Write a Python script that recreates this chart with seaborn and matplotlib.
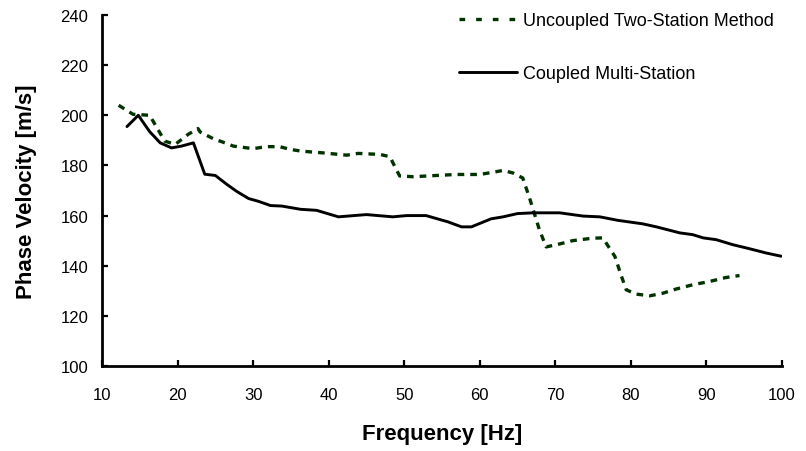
import pandas as pd

import matplotlib
matplotlib.use("Agg")
import matplotlib.pyplot as plt
from matplotlib.lines import Line2D

import seaborn as sns


# coupled multi-station curve
coupled_freq = [13.3, 14.8, 16.3, 17.7, 19.2, 20.5, 22.1, 23.6, 25.0, 26.5, 27.8, 29.4,
                30.7, 32.3, 33.8, 36.3, 38.4, 41.3, 45.0, 48.5, 50.3, 52.9, 55.8, 57.6,
                58.9, 61.5, 63.1, 65.0, 67.1, 70.6, 73.7, 75.9, 78.3, 81.6, 83.4, 86.5,
                88.2, 89.6, 91.3, 93.5, 95.7, 97.9, 99.9]
coupled_vel = [195.5, 200.0, 193.5, 189.0, 187.0, 187.7, 189.0, 176.5, 176.0, 172.5, 169.7, 166.8,
               165.7, 164.0, 163.8, 162.5, 162.1, 159.5, 160.4, 159.5, 160.0, 160.0, 157.5, 155.5,
               155.5, 158.7, 159.5, 160.8, 161.1, 161.1, 159.8, 159.5, 158.1, 156.7, 155.5, 153.1,
               152.4, 151.1, 150.4, 148.4, 146.8, 145.1, 143.8]

# uncoupled two-station curve
uncoupled_freq = [12.2, 14.1, 16.3, 18.3, 19.7, 21.4, 22.7, 23.0, 24.7, 26.0, 27.4, 30.0,
                  31.8, 33.5, 34.9, 36.4, 39.3, 42.4, 43.9, 46.8, 48.1, 49.4, 51.2, 54.3,
                  56.9, 60.0, 61.8, 63.1, 64.4, 65.7, 66.6, 67.9, 68.8, 70.6, 72.3, 75.0,
                  76.3, 77.9, 78.7, 79.4, 80.7, 82.5, 84.2, 86.0, 88.2, 90.4, 92.6, 94.4]
uncoupled_vel = [204.0, 200.4, 200.0, 189.7, 188.4, 192.4, 194.7, 193.3, 190.7, 189.3, 187.7, 186.7,
                 187.5, 187.5, 186.4, 185.7, 185.0, 184.1, 184.8, 184.4, 183.5, 175.8, 175.5, 176.0,
                 176.4, 176.4, 177.3, 178.0, 177.0, 175.0, 167.0, 154.4, 147.5, 148.7, 150.0, 151.0,
                 151.1, 143.7, 136.4, 130.4, 128.7, 128.0, 129.0, 130.7, 132.4, 133.7, 135.3, 136.1]

x_ticks = list(range(10, 101, 10))
y_ticks = list(range(100, 241, 20))

labels = ['Uncoupled Two-Station Method', 'Coupled Multi-Station']
green = '#003300'

sns.set_style("ticks")
plt.rcParams['font.family'] = ['Liberation Sans', 'DejaVu Sans']
plt.rcParams['text.color'] = 'black'
plt.rcParams['axes.labelcolor'] = 'black'

df_unc = pd.DataFrame({'Frequency': uncoupled_freq, 'Velocity': uncoupled_vel})
df_cpl = pd.DataFrame({'Frequency': coupled_freq, 'Velocity': coupled_vel})

fig = plt.figure(figsize=(8.06, 4.52), dpi=100)
ax = fig.add_axes([0.1266, 0.188, 0.8434, 0.7766])

sns.lineplot(data=df_unc, x='Frequency', y='Velocity', ax=ax, color=green,
             linewidth=2.4, linestyle=(0, (2.0, 1.8)))
sns.lineplot(data=df_cpl, x='Frequency', y='Velocity', ax=ax, color='black',
             linewidth=2.1)

ax.set_xlim(10, 100)
ax.set_ylim(100, 240)
ax.set_xticks(x_ticks)
ax.set_yticks(y_ticks)

for side in ['top', 'right']:
    ax.spines[side].set_visible(False)
for side in ['left', 'bottom']:
    ax.spines[side].set_linewidth(2.0)
    ax.spines[side].set_color('black')

ax.tick_params(axis='both', direction='in', length=4.5, width=1.6, labelsize=12,
               colors='black', bottom=True, left=True)
ax.tick_params(axis='x', pad=15)
ax.tick_params(axis='y', pad=10)

ax.set_xlabel("Frequency [Hz]", fontsize=16, fontweight='bold', labelpad=15)
ax.set_ylabel("Phase Velocity [m/s]", fontsize=16, fontweight='bold', labelpad=17)

# legend handles drawn like the original (sparser dashes in the key)
handles = [Line2D([], [], color=green, linewidth=2.4, linestyle=(0, (1.7, 3.3))),
           Line2D([], [], color='black', linewidth=2.1)]
ax.legend(handles, labels, loc='upper left', bbox_to_anchor=(459 / 806, 1 - 13 / 452),
          bbox_transform=fig.transFigure, frameon=False, fontsize=13, handlelength=3.2,
          handletextpad=0.33, labelspacing=2.0, borderpad=0, borderaxespad=0)

fig.savefig("out.png", dpi=100)
